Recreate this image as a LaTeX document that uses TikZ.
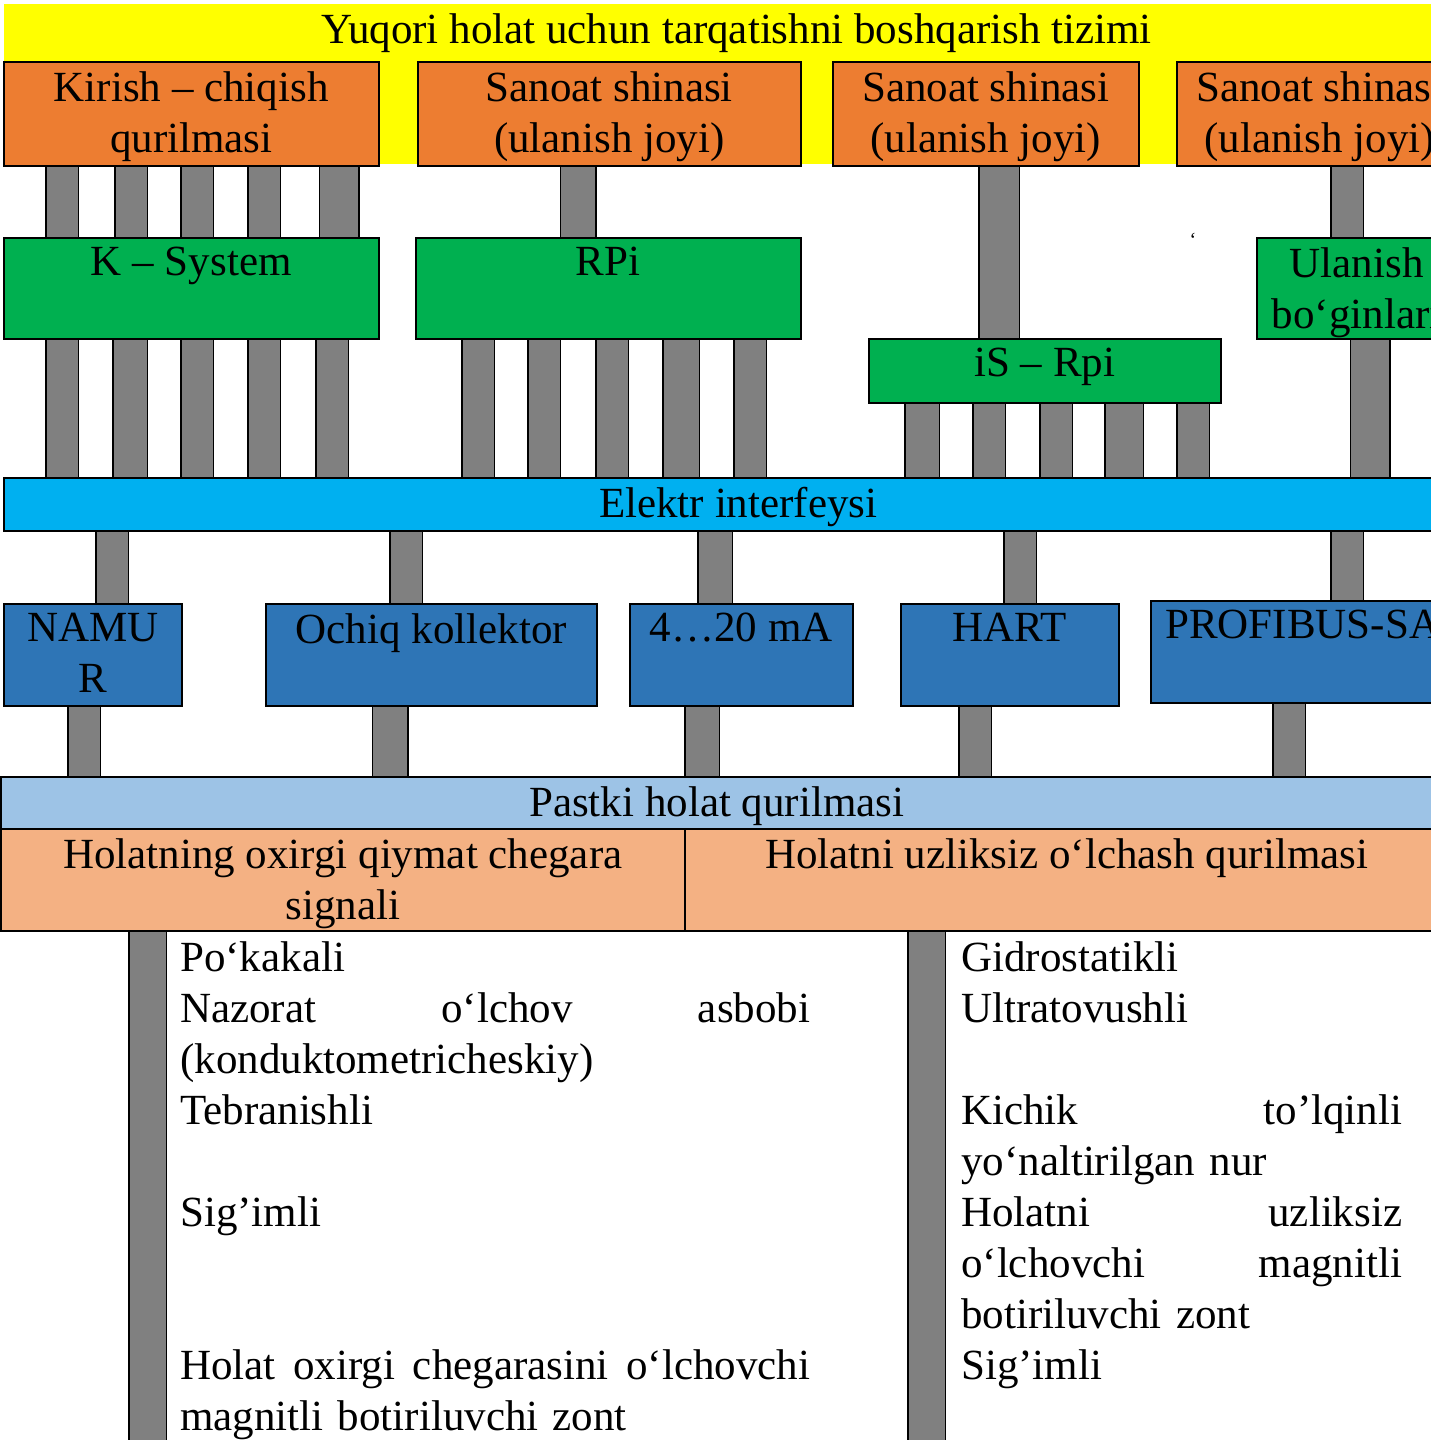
\documentclass[tikz,border=0pt]{standalone}
\usepackage{fontspec}
\setmainfont{Liberation Serif}
\usetikzlibrary{backgrounds}
\definecolor{topyellow}{HTML}{FFFF00}
\definecolor{busorange}{HTML}{ED7D31}
\definecolor{ctrlgreen}{HTML}{00B050}
\definecolor{ifcyan}{HTML}{00B0F0}
\definecolor{sigblue}{HTML}{2E75B6}
\definecolor{lowblue}{HTML}{9DC3E6}
\definecolor{devsalmon}{HTML}{F4B183}
\definecolor{bargray}{HTML}{808080}

\begin{document}
\begin{tikzpicture}[x=1pt, y=-1pt,
	font=\fontsize{43}{51}\selectfont,
	box/.style={draw, line width=1.5pt, anchor=north west, inner sep=0pt},
	intext/.style={anchor=north, align=center, inner sep=10pt},
	busbox/.style={box, fill=busorange},
	ctrlbox/.style={box, fill=ctrlgreen},
	sigbox/.style={box, fill=sigblue},
	bar/.style={draw=black, line width=1.5pt, double=bargray, double distance=#1},
	bar/.default=31pt
	]

	\useasboundingbox (0,0) rectangle (1431,1440);

	% upper level
	\node[box, draw=none, fill=topyellow, minimum width=1466, minimum height=160,
		label={[intext]north:Yuqori holat uchun tarqatishni boshqarish tizimi}] (top) at (3,3) {};
	\node[busbox, minimum width=375, minimum height=104,
		label={[intext]north:Kirish – chiqish\\qurilmasi}] (io) at (3,61) {};
	\node[busbox, minimum width=383, minimum height=104,
		label={[intext]north:Sanoat shinasi\\(ulanish joyi)}] (bus1) at (417,61) {};
	\node[busbox, minimum width=306, minimum height=104,
		label={[intext]north:Sanoat shinasi\\(ulanish joyi)}] (bus2) at (832,61) {};
	\node[busbox, minimum width=286, minimum height=104,
		label={[intext]north:Sanoat shinasi\\(ulanish joyi)}] (bus3) at (1176,61) {};

	% controllers
	\node[ctrlbox, minimum width=375, minimum height=101,
		label={[intext]north:K – System}] (ksys) at (3,237) {};
	\node[ctrlbox, minimum width=385, minimum height=101,
		label={[intext]north:RPi}] (rpi) at (415,237) {};
	\node[ctrlbox, minimum width=352, minimum height=64,
		label={[intext]north:iS – Rpi}] (isrpi) at (868,338) {};
	\node[ctrlbox, minimum width=200, minimum height=101,
		label={[intext]north:Ulanish\\bo‘ginlari}] (ulanish) at (1256,237) {};
	\node[inner sep=0pt] (tick) at (1193,240) {\fontsize{20}{20}\selectfont ‘};

	\node[box, fill=ifcyan, minimum width=1469, minimum height=53,
		label={[intext]north:Elektr interfeysi}] (elektr) at (3,477) {};

	% signals
	\node[sigbox, minimum width=178, minimum height=102,
		label={[intext]north:NAMU\\R}] (namur) at (3,603) {};
	\node[sigbox, minimum width=331, minimum height=102,
		label={[intext]north:Ochiq kollektor}] (ochiq) at (265,603) {};
	\node[sigbox, minimum width=223, minimum height=102,
		label={[intext]north:4…20 mA}] (ma) at (629,603) {};
	\node[sigbox, minimum width=218, minimum height=102,
		label={[intext]north:HART}] (hart) at (900,603) {};
	\node[sigbox, minimum width=304, minimum height=102,
		label={[intext]north:PROFIBUS-SA}] (profi) at (1150,600) {};

	% lower level
	\node[box, fill=lowblue, minimum width=1432, minimum height=52,
		label={[intext]north:Pastki holat qurilmasi}] (pastki) at (0,776) {};
	\node[box, fill=devsalmon, minimum width=684, minimum height=102,
		label={[intext]north:Holatning oxirgi qiymat chegara\\signali}] (limit) at (0,828) {};
	\node[box, fill=devsalmon, minimum width=764, minimum height=102,
		label={[intext]north:Holatni uzliksiz o‘lchash qurilmasi}] (cont) at (684,828) {};

	\node[anchor=north west, inner sep=0pt, text width=630, align=left] (limtxt) at (180,941) {%
		Po‘kakali\\
		Nazorat\hfill o‘lchov\hfill asbobi\\
		(konduktometricheskiy)\\
		Tebranishli\\
		\mbox{}\\
		Sig’imli\\
		\mbox{}\\
		\mbox{}\\
		Holat\hfill oxirgi\hfill chegarasini\hfill o‘lchovchi\\
		magnitli botiriluvchi zont};
	\node[anchor=north west, inner sep=0pt, text width=441, align=left] (conttxt) at (961,941) {%
		Gidrostatikli\\
		Ultratovushli\\
		\mbox{}\\
		Kichik\hfill to’lqinli\\
		yo‘naltirilgan nur\\
		Holatni\hfill uzliksiz\\
		o‘lchovchi\hfill magnitli\\
		botiriluvchi zont\\
		Sig’imli};

	\coordinate (lbot) at (147.5,1445);
	\coordinate (rbot) at (926.5,1445);

	\begin{scope}[on background layer]
		\draw[bar] (io.south -| 62,0) -- (ksys.north -| 62,0);
		\draw[bar] (io.south -| 131,0) -- (ksys.north -| 131,0);
		\draw[bar] (io.south -| 197,0) -- (ksys.north -| 197,0);
		\draw[bar] (io.south -| 264,0) -- (ksys.north -| 264,0);
		\draw[bar=38pt] (io.south -| 339,0) -- (ksys.north -| 339,0);
		\draw[bar=34pt] (bus1.south -| 578,0) -- (rpi.north -| 578,0);
		\draw[bar=39pt] (bus2.south -| 999,0) -- (isrpi.north -| 999,0);
		\draw[bar] (bus3.south -| 1347,0) -- (ulanish.north -| 1347,0);

		\draw[bar] (ksys.south -| 62,0) -- (elektr.north -| 62,0);
		\draw[bar=33pt] (ksys.south -| 130,0) -- (elektr.north -| 130,0);
		\draw[bar] (ksys.south -| 197,0) -- (elektr.north -| 197,0);
		\draw[bar] (ksys.south -| 264,0) -- (elektr.north -| 264,0);
		\draw[bar] (ksys.south -| 332,0) -- (elektr.north -| 332,0);
		\draw[bar] (rpi.south -| 478,0) -- (elektr.north -| 478,0);
		\draw[bar] (rpi.south -| 544,0) -- (elektr.north -| 544,0);
		\draw[bar] (rpi.south -| 612,0) -- (elektr.north -| 612,0);
		\draw[bar=35pt] (rpi.south -| 681,0) -- (elektr.north -| 681,0);
		\draw[bar] (rpi.south -| 750,0) -- (elektr.north -| 750,0);
		\draw[bar=33pt] (isrpi.south -| 922,0) -- (elektr.north -| 922,0);
		\draw[bar] (isrpi.south -| 989,0) -- (elektr.north -| 989,0);
		\draw[bar] (isrpi.south -| 1056,0) -- (elektr.north -| 1056,0);
		\draw[bar=37pt] (isrpi.south -| 1124,0) -- (elektr.north -| 1124,0);
		\draw[bar] (isrpi.south -| 1193,0) -- (elektr.north -| 1193,0);
		\draw[bar=38pt] (ulanish.south -| 1370,0) -- (elektr.north -| 1370,0);

		\draw[bar] (elektr.south -| 112,0) -- (namur.north -| 112,0);
		\draw[bar] (elektr.south -| 406,0) -- (ochiq.north -| 406,0);
		\draw[bar=33pt] (elektr.south -| 715,0) -- (ma.north -| 715,0);
		\draw[bar] (elektr.south -| 1020,0) -- (hart.north -| 1020,0);
		\draw[bar] (elektr.south -| 1347,0) -- (profi.north -| 1347,0);

		\draw[bar] (namur.south -| 84,0) -- (pastki.north -| 84,0);
		\draw[bar=34pt] (ochiq.south -| 390,0) -- (pastki.north -| 390,0);
		\draw[bar=33pt] (ma.south -| 702,0) -- (pastki.north -| 702,0);
		\draw[bar] (hart.south -| 975,0) -- (pastki.north -| 975,0);
		\draw[bar] (profi.south -| 1289,0) -- (pastki.north -| 1289,0);

		\draw[bar=36pt] (limit.south -| lbot) -- (lbot);
		\draw[bar=36pt] (cont.south -| rbot) -- (rbot);
	\end{scope}
\end{tikzpicture}
\end{document}
